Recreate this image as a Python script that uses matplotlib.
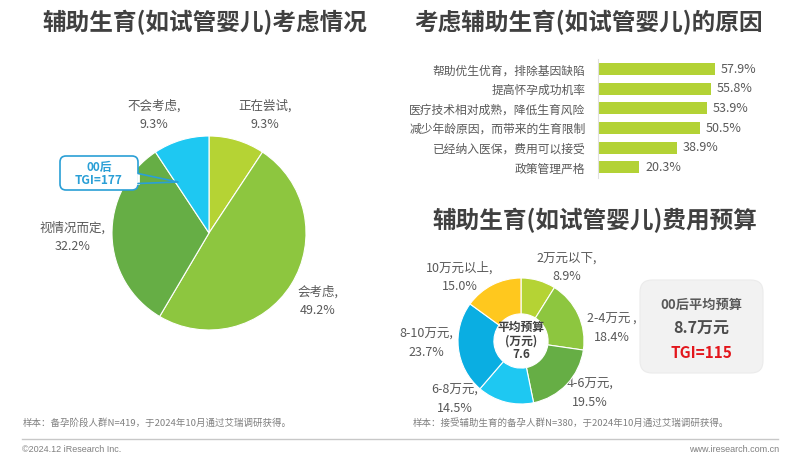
import matplotlib
matplotlib.use('Agg')
import matplotlib.pyplot as plt
from matplotlib.patches import FancyBboxPatch
import numpy as np

plt.rcParams['font.family'] = ['Noto Sans CJK SC', 'DejaVu Sans']

# data
consider_labels = ['正在尝试', '会考虑', '视情况而定', '不会考虑']
consider_values = [9.3, 49.2, 32.2, 9.3]

reason_labels = ['帮助优生优育，排除基因缺陷', '提高怀孕成功机率', '医疗技术相对成熟，降低生育风险',
                 '减少年龄原因，而带来的生育限制', '已经纳入医保，费用可以接受', '政策管理严格']
reason_values = [57.9, 55.8, 53.9, 50.5, 38.9, 20.3]

budget_labels = ['2万元以下', '2-4万元', '4-6万元', '6-8万元', '8-10万元', '10万元以上']
budget_values = [8.9, 18.4, 19.5, 14.5, 23.7, 15.0]
budget_avg = 7.6
budget_00 = 8.7
tgi_00_budget = 115
tgi_00_consider = 177

W, H = 800, 459
TITLE = '#404040'
GRAY = '#595959'
pie_colors = ['#B5D334', '#8DC63F', '#66AE45', '#1EC8F2']
donut_colors = ['#B5D334', '#8DC63F', '#66AE45', '#1EC8F2', '#0AAEE2', '#FFC81E']

fig = plt.figure(figsize=(8, 4.59), dpi=100)
bg = fig.add_axes([0, 0, 1, 1])
bg.set_xlim(0, W)
bg.set_ylim(H, 0)
bg.axis('off')

def px_axes(x0, y0, x1, y1):
    return fig.add_axes([x0 / W, 1 - y1 / H, (x1 - x0) / W, (y1 - y0) / H])

# titles
bg.text(205, 22, '辅助生育(如试管婴儿)考虑情况', fontsize=17, fontweight='bold', color=TITLE, ha='center', va='center')
bg.text(588, 22, '考虑辅助生育(如试管婴儿)的原因', fontsize=17, fontweight='bold', color=TITLE, ha='center', va='center')
bg.text(595, 220, '辅助生育(如试管婴儿)费用预算', fontsize=17, fontweight='bold', color=TITLE, ha='center', va='center')

# left pie
ax1 = px_axes(112, 136, 306, 330)
ax1.pie(consider_values, colors=pie_colors, startangle=90, counterclock=False,
        wedgeprops=dict(edgecolor='white', linewidth=0.8))
ax1.set_xlim(-1, 1)
ax1.set_ylim(-1, 1)
ax1.set_aspect('equal')
ax1.axis('off')

pie_lab_pos = [(265, 115), (318, 301), (73, 237), (154, 115)]
for lab, v, (x, y) in zip(consider_labels, consider_values, pie_lab_pos):
    bg.text(x, y, f'{lab},\n{v}%', fontsize=9, color=GRAY, ha='center', va='center', linespacing=1.6)

# bar chart
ax2 = px_axes(598, 59, 778, 178)
y_pos = np.arange(len(reason_labels))
ax2.barh(y_pos, reason_values, height=0.61, color='#B3D235')
ax2.set_xlim(0, 180 / 2.02)
ax2.set_ylim(5.55, -0.52)
ax2.set_yticks(y_pos)
ax2.set_yticklabels(reason_labels, fontsize=8.5, color=GRAY)
ax2.tick_params(axis='y', length=0, pad=9)
ax2.set_xticks([])
for s in ['top', 'right', 'bottom']:
    ax2.spines[s].set_visible(False)
ax2.spines['left'].set_color('#E0E0E0')
ax2.patch.set_alpha(0)
for i, v in enumerate(reason_values):
    ax2.text(v + 3, i, f'{v}%', fontsize=9, color=GRAY, va='center', ha='left')

# donut
ax3 = px_axes(458, 278, 584, 404)
ax3.pie(budget_values, colors=donut_colors, startangle=90, counterclock=False, radius=1,
        wedgeprops=dict(width=0.57, edgecolor='white', linewidth=0.8))
ax3.set_xlim(-1, 1)
ax3.set_ylim(-1, 1)
ax3.set_aspect('equal')
ax3.axis('off')
ax3.text(0, 0.22, '平均预算', fontsize=8.5, fontweight='bold', color=TITLE, ha='center', va='center')
ax3.text(0, 0.0, '(万元)', fontsize=8.5, fontweight='bold', color=TITLE, ha='center', va='center')
ax3.text(0, -0.21, f'{budget_avg}', fontsize=8.5, fontweight='bold', color=TITLE, ha='center', va='center')

donut_lab_pos = [(567, 267), (612, 328), (590, 393), (455, 399), (426, 343), (460, 277)]
for lab, v, (x, y) in zip(budget_labels, budget_values, donut_lab_pos):
    sep = ' ,' if lab == '2-4万元' else ','
    bg.text(x, y, f'{lab}{sep}\n{v:.1f}%', fontsize=9, color=GRAY, ha='center', va='center', linespacing=1.55)

# budget box
bg.add_patch(FancyBboxPatch((640, 280), 123, 93, boxstyle='round,pad=0,rounding_size=12',
                            facecolor='#F2F2F2', edgecolor='#EBEBEB', linewidth=0.8))
bg.text(701, 305, '00后平均预算', fontsize=9.5, fontweight='bold', color=GRAY, ha='center', va='center')
bg.text(701, 329, f'{budget_00}万元', fontsize=11.5, fontweight='bold', color='#4D4D4D', ha='center', va='center')
bg.text(701, 353, f'TGI={tgi_00_budget}', fontsize=11, fontweight='bold', color='#E3161C', ha='center', va='center')

# footnotes
bg.text(23, 423, '样本：备孕阶段人群N=419，于2024年10月通过艾瑞调研获得。', fontsize=6.8, color='#808080', ha='left', va='center')
bg.text(413, 423, '样本：接受辅助生育的备孕人群N=380，于2024年10月通过艾瑞调研获得。', fontsize=6.8, color='#808080', ha='left', va='center')
bg.plot([22, 778], [439, 439], color='#C8C8C8', lw=1)
bg.text(22, 449, '©2024.12 iResearch Inc.', fontsize=6.5, color='#808080', ha='left', va='center', family='Liberation Sans')
bg.text(779, 449, 'www.iresearch.com.cn', fontsize=6.5, color='#808080', ha='right', va='center', family='Liberation Sans')

# callout 00后 on top of the pie
fg = fig.add_axes([0, 0, 1, 1])
fg.set_xlim(0, W)
fg.set_ylim(H, 0)
fg.axis('off')
fg.patch.set_alpha(0)
blue = '#2A9FD6'
fg.add_patch(FancyBboxPatch((60, 156), 78, 34, boxstyle='round,pad=0,rounding_size=6',
                            facecolor='white', edgecolor=blue, linewidth=1.2, zorder=5))
fg.plot([138, 138], [174, 183], color='white', lw=2, zorder=6)
fg.plot([138, 178, 138], [173.5, 182, 183.5], color=blue, lw=1.2, zorder=7, solid_capstyle='round')
fg.text(99, 167, '00后', fontsize=8.5, fontweight='bold', color=blue, ha='center', va='center', zorder=8)
fg.text(99, 181, f'TGI={tgi_00_consider}', fontsize=8.5, fontweight='bold', color=blue, ha='center', va='center', zorder=8)

fig.savefig('out.png', dpi=100)
